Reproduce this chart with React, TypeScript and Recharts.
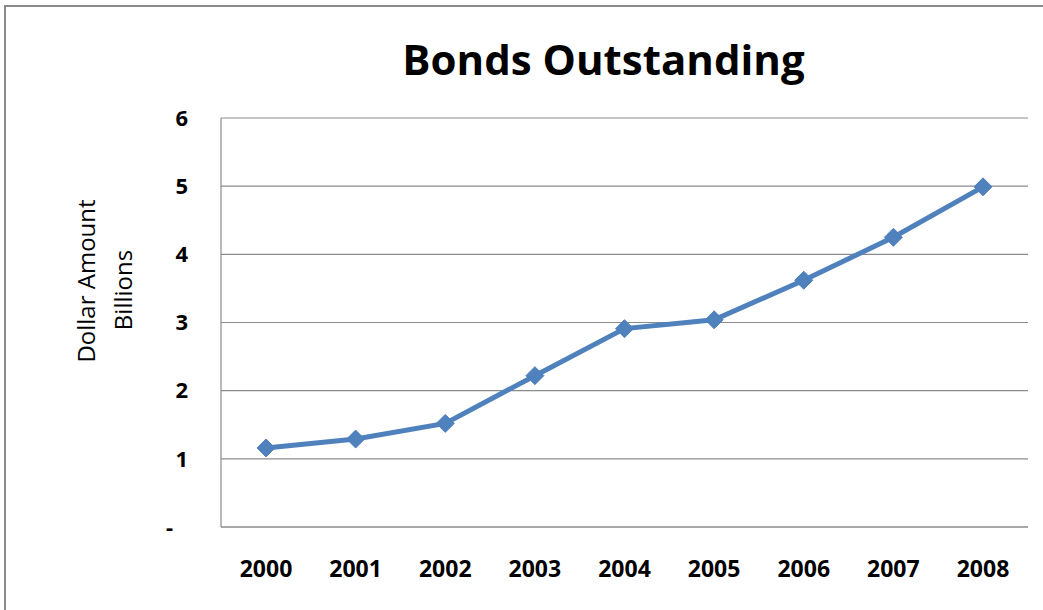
import React from "react";
import { LineChart, Line, XAxis, YAxis, CartesianGrid } from "recharts";

const years = ["2000", "2001", "2002", "2003", "2004", "2005", "2006", "2007", "2008"];
const bonds = [1.16, 1.29, 1.52, 2.22, 2.91, 3.04, 3.62, 4.25, 4.99];
const yTicks = [0, 1, 2, 3, 4, 5, 6];

const data = years.map((y, i) => ({ year: y, value: bonds[i] }));

const FONT = "'Open Sans', 'DejaVu Sans', sans-serif";
const BLUE = "#4F81BD";

const Diamond = (props: any) => {
  const { cx, cy } = props;
  if (cx == null || cy == null) return null;
  const r = 9;
  return (
    <polygon
      points={`${cx},${cy - r} ${cx + r},${cy} ${cx},${cy + r} ${cx - r},${cy}`}
      fill={BLUE}
      stroke={BLUE}
      strokeWidth={1}
    />
  );
};

const YTick = (props: any) => {
  const { x, y, payload } = props;
  const v = payload.value;
  return (
    <text
      x={v === 0 ? x - 15 : x}
      y={y}
      dy="0.355em"
      textAnchor="end"
      fontFamily={FONT}
      fontWeight={700}
      fontSize={22}
      fill="#000"
    >
      {v === 0 ? "-" : String(v)}
    </text>
  );
};

const YLabel = () => (
  <g>
    <text
      x={85}
      y={281}
      transform="rotate(-90 85 281)"
      textAnchor="middle"
      dominantBaseline="central"
      fontFamily={FONT}
      fontSize={24}
      fill="#000"
    >
      Dollar Amount
    </text>
    <text
      x={122}
      y={290}
      transform="rotate(-90 122 290)"
      textAnchor="middle"
      dominantBaseline="central"
      fontFamily={FONT}
      fontSize={24}
      fill="#000"
    >
      Billions
    </text>
  </g>
);

export default function App() {
  return (
    <div
      style={{
        position: "absolute",
        left: 0,
        top: 0,
        width: 1043,
        height: 610,
        background: "#fff",
        overflow: "hidden",
      }}
    >
      <div
        style={{
          position: "absolute",
          left: 4,
          top: 5,
          width: 1060,
          height: 640,
          border: "2px solid #8a8a8a",
          boxSizing: "border-box",
        }}
      />
      <div
        style={{
          position: "absolute",
          left: 0,
          top: 31,
          width: 1207,
          textAlign: "center",
          fontFamily: FONT,
          fontWeight: 700,
          fontSize: 42,
          lineHeight: "56px",
          color: "#000",
        }}
      >
        Bonds Outstanding
      </div>
      <div style={{ position: "absolute", left: 0, top: 0 }}>
        <LineChart
          width={1043}
          height={610}
          data={data}
          margin={{ top: 118, right: 15, bottom: 53, left: 161 }}
        >
          <CartesianGrid
            vertical={false}
            stroke="#8c8c8c"
            strokeWidth={1.2}
          />
          <XAxis
            dataKey="year"
            height={30}
            padding={{ left: 45, right: 45 }}
            tickLine={false}
            tickSize={0}
            tickMargin={34}
            axisLine={{ stroke: "#8c8c8c", strokeWidth: 1.2 }}
            tick={{ fontFamily: FONT, fontWeight: 700, fontSize: 23, fill: "#000" }}
            interval={0}
          />
          <YAxis
            width={60}
            domain={[0, 6]}
            ticks={yTicks}
            tickLine={false}
            tickSize={0}
            tickMargin={33}
            axisLine={{ stroke: "#8c8c8c", strokeWidth: 1.2 }}
            tick={<YTick />}
            label={<YLabel />}
          />
          <Line
            type="linear"
            dataKey="value"
            stroke={BLUE}
            strokeWidth={5}
            dot={<Diamond />}
            activeDot={false}
            isAnimationActive={false}
          />
        </LineChart>
      </div>
    </div>
  );
}
